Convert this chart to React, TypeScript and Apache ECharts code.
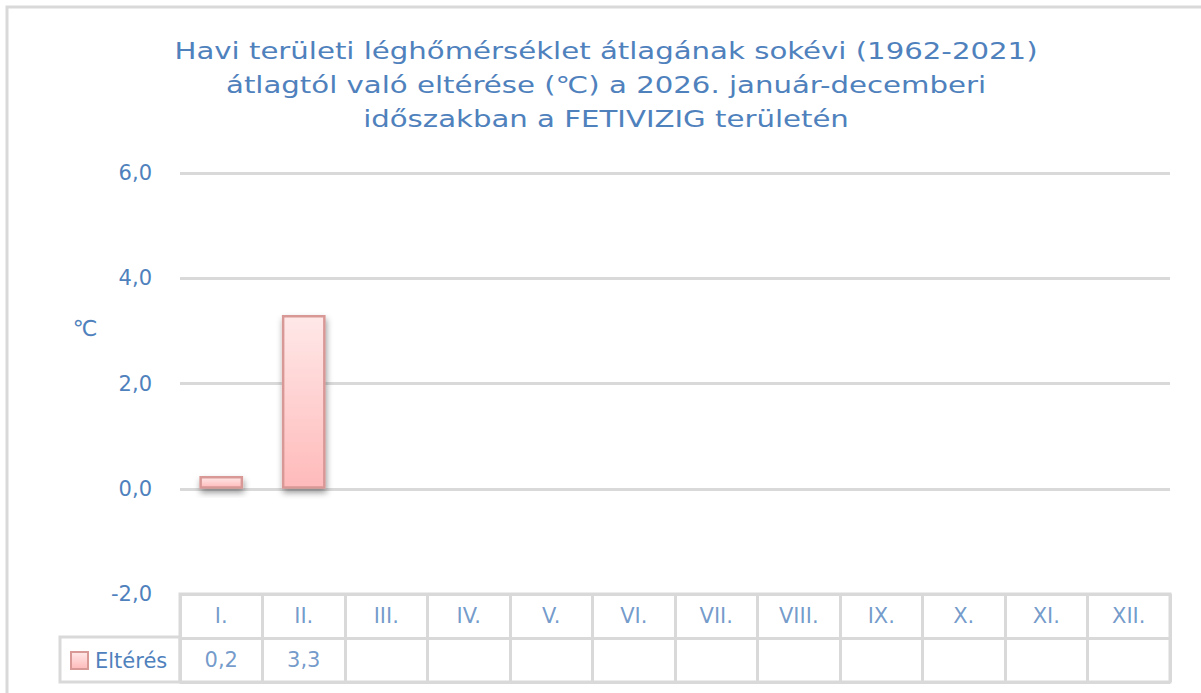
import React, { useEffect, useRef } from "react";
import * as echarts from "echarts";

const months = ["I.", "II.", "III.", "IV.", "V.", "VI.", "VII.", "VIII.", "IX.", "X.", "XI.", "XII."];
const deviation: (number | null)[] = [0.24, 3.3, null, null, null, null, null, null, null, null, null, null];
const yTicks = { min: -2, max: 6, interval: 2 };
const seriesName = "Eltérés";
const unitName = "℃";
const titleText =
  "Havi területi léghőmérséklet átlagának sokévi (1962-2021)\nátlagtól való eltérése (℃) a 2026. január-decemberi\nidőszakban a FETIVIZIG területén";
const rowKeys = ["data", "header"];

const BLUE = "#4F81BD";
const GREY = "#D9D9D9";
const FONT = "'DejaVu Sans', Verdana, sans-serif";

const fmt = (v: number) => v.toFixed(1).replace(".", ",");

export default function App() {
  const ref = useRef<HTMLDivElement>(null);
  useEffect(() => {
    if (!ref.current) return;
    const chart = echarts.init(ref.current, null, { renderer: "svg" });
    const barColor = new echarts.graphic.LinearGradient(0, 0, 0, 1, [
      { offset: 0, color: "#FFE8E8" },
      { offset: 1, color: "#FFBABA" },
    ]);
    const tableData: any[] = [];
    months.forEach((m, i) => {
      tableData.push({ value: [i, "header"], label: { formatter: m } });
      const v = deviation[i];
      if (v !== null && v !== undefined) {
        tableData.push({ value: [i, "data"], label: { formatter: fmt(v) } });
      }
    });
    chart.setOption({
      animation: false,
      backgroundColor: "#ffffff",
      legend: {
        left: 70,
        top: 650,
        itemWidth: 17,
        itemHeight: 17,
        itemGap: 0,
        icon: "rect",
        padding: 0,
        textStyle: { color: BLUE, fontSize: 21, fontFamily: FONT, padding: [0, 0, 0, 2] },
        data: [seriesName],
      },
      grid: [
        { left: 180, top: 173, width: 990, height: 421, containLabel: false },
        {
          left: 180,
          top: 594,
          width: 990,
          height: 88,
          show: true,
          borderColor: GREY,
          borderWidth: 3,
          backgroundColor: "transparent",
        },
      ],
      xAxis: [
        {
          gridIndex: 0,
          type: "category",
          data: months,
          axisLine: { show: false },
          axisTick: { show: false },
          axisLabel: { show: false },
        },
        {
          gridIndex: 1,
          type: "category",
          data: months,
          boundaryGap: true,
          axisLine: { show: false },
          axisTick: { show: false },
          axisLabel: { show: false },
          splitLine: { show: true, interval: 0, lineStyle: { color: GREY, width: 3 } },
        },
      ],
      yAxis: [
        {
          gridIndex: 0,
          type: "value",
          min: yTicks.min,
          max: yTicks.max,
          interval: yTicks.interval,
          axisLine: { show: false },
          axisTick: { show: false },
          axisLabel: {
            formatter: (v: number) => fmt(v),
            color: BLUE,
            fontSize: 21,
            fontFamily: FONT,
            margin: 28,
          },
          splitLine: { lineStyle: { color: GREY, width: 3 } },
          name: unitName,
          nameLocation: "end",
          nameRotate: 0,
          nameGap: -155,
          nameTextStyle: {
            color: BLUE,
            fontSize: 22,
            fontFamily: FONT,
            align: "center",
            verticalAlign: "middle",
            padding: [0, 190, 0, 0],
          },
        },
        {
          gridIndex: 1,
          type: "category",
          data: rowKeys,
          boundaryGap: true,
          axisLine: { show: false },
          axisTick: { show: false },
          axisLabel: { show: false },
          splitLine: { show: true, interval: 0, lineStyle: { color: GREY, width: 3 } },
        },
      ],
      graphic: [
        {
          type: "rect",
          shape: { x: 7, y: 7, width: 1300, height: 800 },
          style: { fill: "none", stroke: GREY, lineWidth: 3 },
          silent: true,
        },
        {
          type: "rect",
          shape: { x: 60, y: 637, width: 120, height: 45 },
          style: { fill: "none", stroke: GREY, lineWidth: 3 },
          silent: true,
        },
        {
          type: "text",
          x: 606,
          y: 85,
          scaleX: 1.27,
          scaleY: 1,
          silent: true,
          style: {
            text: titleText,
            fill: BLUE,
            font: "23px 'DejaVu Sans', Verdana, sans-serif",
            lineHeight: 34,
            align: "center",
            verticalAlign: "middle",
          },
        },
      ],
      series: [
        {
          name: seriesName,
          type: "bar",
          xAxisIndex: 0,
          yAxisIndex: 0,
          data: deviation,
          barWidth: "53%",
          itemStyle: {
            color: barColor,
            borderColor: "#D89896",
            borderWidth: 2.5,
            shadowBlur: 6,
            shadowColor: "rgba(0,0,0,0.4)",
            shadowOffsetX: 1,
            shadowOffsetY: 4,
          },
        },
        {
          type: "scatter",
          xAxisIndex: 1,
          yAxisIndex: 1,
          symbolSize: 1,
          itemStyle: { color: "rgba(0,0,0,0)" },
          silent: true,
          data: tableData,
          label: {
            show: true,
            position: "inside",
            color: BLUE,
            fontSize: 21,
            fontFamily: FONT,
          },
        },
      ],
    });
    return () => chart.dispose();
  }, []);
  return (
    <div
      ref={ref}
      style={{ position: "fixed", left: 0, top: 0, width: 1201, height: 693 }}
    />
  );
}
